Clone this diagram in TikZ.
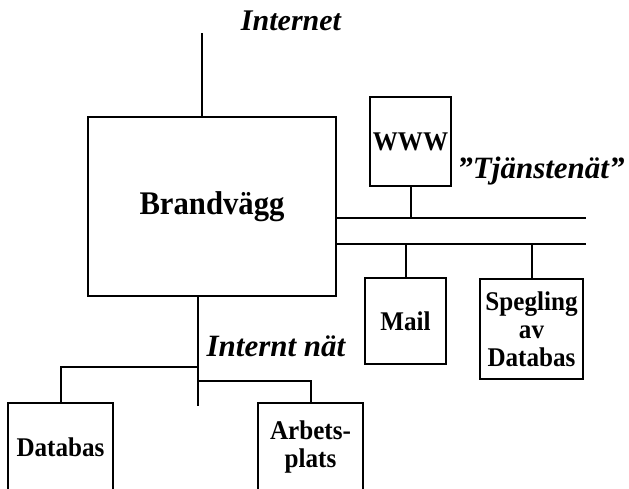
\documentclass[tikz,border=0pt]{standalone}
\usepackage{fontspec}
\setmainfont{Liberation Serif}
\newfontfamily\boxfont{Liberation Serif}[FakeStretch=0.93]
\usetikzlibrary{positioning,calc}
\tikzset{
  hostbox/.style={draw, line width=2pt, inner sep=0pt, align=center,
                  font=\boxfont\bfseries\fontsize{27}{28}\selectfont},
  netline/.style={line width=2pt},
  netlbl/.style={inner sep=0pt, font=\bfseries\itshape\fontsize{30}{34}\selectfont}}

\begin{document}
\begin{tikzpicture}[x=1pt, y=-1pt]
    \useasboundingbox (0,0) rectangle (629,488);
    \clip (0,0) rectangle (629,488);
    % firewall and servers
    \node[hostbox, minimum width=248, minimum height=179,
          font=\boxfont\bfseries\fontsize{33}{36}\selectfont] (fw) at (212,206.5) {Brandvägg};
    \node[hostbox, minimum width=81, minimum height=89] (www) at (410.5,141.5) {WWW};
    \node[hostbox, minimum width=81, minimum height=86] (mail) at (405.5,321) {Mail};
    \node[hostbox, minimum width=103, minimum height=100] (speg) at (531.5,329) {Spegling\\av\\Databas};
    \node[hostbox, minimum width=105, minimum height=88] (db) at (60.5,447) {Databas};
    \node[hostbox, minimum width=105, minimum height=88] (ap) at (310.5,447) {Arbets-\\plats};
    % net labels
    \node[netlbl] (inetlbl) at (291,21) {Internet};
    \node[netlbl, font=\bfseries\itshape\fontsize{31}{34}\selectfont] (tjlbl) at (541,171) {”Tjänstenät”};
    \node[netlbl, font=\bfseries\itshape\fontsize{31}{34}\selectfont] (lanlbl) at (276,346) {Internt nät};
    % wires
    \coordinate (inet) at (202,33);
    \coordinate (bus1) at (586,218);
    \coordinate (bus2) at (586,244);
    \coordinate (lan) at (198,406);
    \coordinate (dbj) at (198,367);
    \coordinate (apj) at (198,381);
    \draw[netline] (inet) -- (inet |- fw.north);
    \draw[netline] (fw.east |- bus1) -- (bus1);
    \draw[netline] (fw.east |- bus2) -- (bus2);
    \draw[netline] (www.south) -- (www.south |- bus1);
    \draw[netline] (mail.north) -- (mail.north |- bus2);
    \draw[netline] (speg.north) -- (speg.north |- bus2);
    \draw[netline] (fw.south -| lan) -- (lan);
    \draw[netline] (db.north) |- (dbj);
    \draw[netline] (apj) -| (ap.north);
  \end{tikzpicture}
\end{document}
